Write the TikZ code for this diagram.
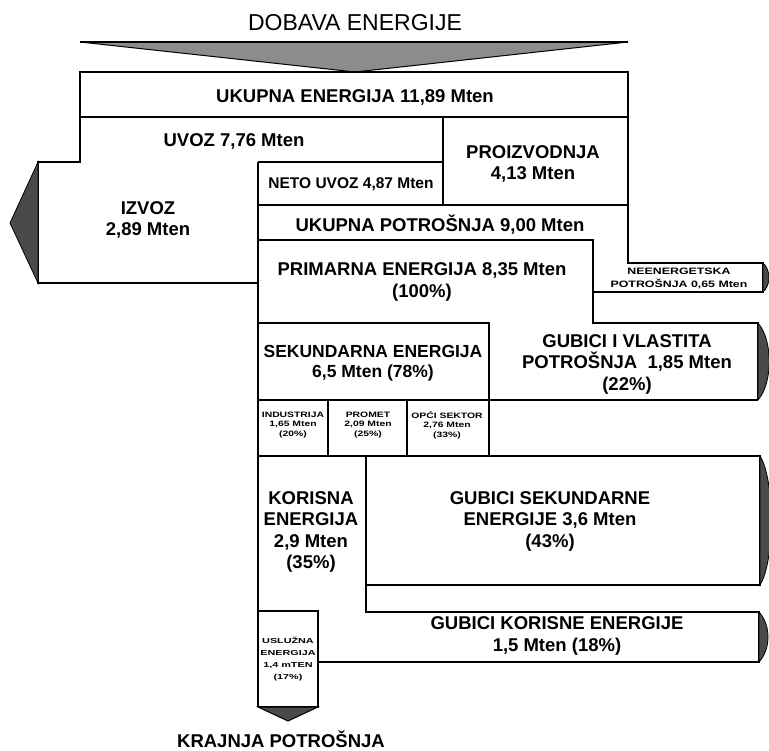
\documentclass[tikz,border=0pt]{standalone}
\usepackage{fontspec}
\setmainfont{Liberation Sans}
\newfontfamily\wideA[FakeStretch=1.33]{Liberation Sans}
\newfontfamily\wideB[FakeStretch=1.5]{Liberation Sans}
\definecolor{tri}{HTML}{8C8C8C}
\definecolor{darkhead}{HTML}{4A4A4A}
\tikzset{
  edge/.style={line width=1.4pt, draw=black, line join=miter},
  head/.style={fill=darkhead, draw=black, line width=0.8pt},
  lbl/.style={font=\bfseries\fontsize{18.5}{21.5}\selectfont, align=center, inner sep=0pt},
  lblm/.style={font=\bfseries\fontsize{17.5}{20}\selectfont, align=center, inner sep=0pt},
  lbls/.style={font=\bfseries\fontsize{15.5}{18}\selectfont, align=center, inner sep=0pt},
  lblt/.style={font=\wideA\bfseries\fontsize{9.3}{13}\selectfont, align=center, inner sep=0pt},
  lblx/.style={font=\wideA\bfseries\fontsize{7.8}{9.6}\selectfont, align=center, inner sep=0pt},
  lblu/.style={font=\wideB\bfseries\fontsize{7.2}{12}\selectfont, align=center, inner sep=0pt},
  title/.style={font=\fontsize{23}{26}\selectfont, inner sep=0pt}
}
\begin{document}
\begin{tikzpicture}[x=1pt,y=-1pt]
\useasboundingbox (0,0) rectangle (769,751);
\clip (0,0) rectangle (769,751);
% top supply triangle
\filldraw[fill=tri, draw=black, line width=1pt] (80,42) -- (628,42) -- (355,72) -- cycle;
\draw[line width=2.6pt] (80,42) -- (628,42);
% total energy box
\draw[edge] (80,72) rectangle (628,117);
% import / export region
\draw[edge] (80,117) -- (80,162) -- (38,162) -- (38,283) -- (258,283);
\filldraw[head] (38,162) -- (10,223) -- (38,283) -- cycle;
% main left spine
\draw[edge] (258,162) -- (258,707);
% neto uvoz / proizvodnja
\draw[edge] (258,162) -- (443,162);
\draw[edge] (443,117) -- (443,205);
\draw[edge] (258,205) -- (628,205);
% right side and non-energy use
\draw[edge] (628,117) -- (628,263) -- (763,263) -- (763,292) -- (593,292);
\filldraw[head] (763,263) .. controls (771,270) and (771,285) .. (763,292) -- cycle;
% primary energy
\draw[edge] (258,240) -- (593,240) -- (593,323) -- (758,323) -- (758,400);
\draw[edge] (258,323) -- (489,323) -- (489,456);
\filldraw[head] (758,323) .. controls (773,340) and (773,383) .. (758,400) -- cycle;
% sector boxes row
\draw[edge] (258,400) -- (758,400);
\draw[edge] (328,400) -- (328,456);
\draw[edge] (407,400) -- (407,456);
% secondary losses
\draw[edge] (258,456) -- (760,456) -- (760,585) -- (366,585);
\draw[edge] (366,456) -- (366,612) -- (759,612) -- (759,662) -- (318,662);
\filldraw[head] (760,456) .. controls (775,480) and (775,561) .. (760,585) -- cycle;
\filldraw[head] (759,612) .. controls (771,625) and (771,649) .. (759,662) -- cycle;
% useful energy box
\draw[edge] (258,611) -- (318,611) -- (318,707) -- (258,707);
\filldraw[fill=darkhead, draw=black, line width=1pt] (258,707) -- (318,707) -- (288,721) -- cycle;

% labels
\node[title] (dobava) at (355,23) {DOBAVA ENERGIJE};
\node[lbl] (ukupna) at (355,97) {UKUPNA ENERGIJA 11,89 Mten};
\node[lbl] (uvoz) at (234,141) {UVOZ 7,76 Mten};
\node[lbl] (izvoz) at (148,220) {IZVOZ\\2,89 Mten};
\node[lbls] (neto) at (351,184) {NETO UVOZ 4,87 Mten};
\node[lbl] (proizv) at (533,164) {PROIZVODNJA\\4,13 Mten};
\node[lbl] (potros) at (440,225) {UKUPNA POTROŠNJA 9,00 Mten};
\node[lbl] (primar) at (422,282) {PRIMARNA ENERGIJA 8,35 Mten\\(100\%)};
\node[lblt] (neenerg) at (679,278) {NEENERGETSKA\\POTROŠNJA 0,65 Mten};
\node[lblm] (sekund) at (373,363) {SEKUNDARNA ENERGIJA\\6,5 Mten (78\%)};
\node[lbl] (gubvl) at (627,364) {GUBICI I VLASTITA\\POTROŠNJA\ \ 1,85 Mten\\(22\%)};
\node[lblx] (indus) at (293,425) {INDUSTRIJA\\1,65 Mten\\(20\%)};
\node[lblx] (promet) at (368,425) {PROMET\\2,09 Mten\\(25\%)};
\node[lblx] (opci) at (447,425) {OPĆI SEKTOR\\2,76 Mten\\(33\%)};
\node[lbl] (korisna) at (311,532) {KORISNA\\ENERGIJA\\2,9 Mten\\(35\%)};
\node[lbl] (gubsek) at (550,521) {GUBICI SEKUNDARNE\\ENERGIJE 3,6 Mten\\(43\%)};
\node[lbl] (gubkor) at (557,636) {GUBICI KORISNE ENERGIJE\\1,5 Mten (18\%)};
\node[lblu] (uslug) at (288,659) {USLUŽNA\\ENERGIJA\\1,4 mTEN\\(17\%)};
\node[lbl] (krajnja) at (281,739) {KRAJNJA POTROŠNJA};
\end{tikzpicture}
\end{document}
